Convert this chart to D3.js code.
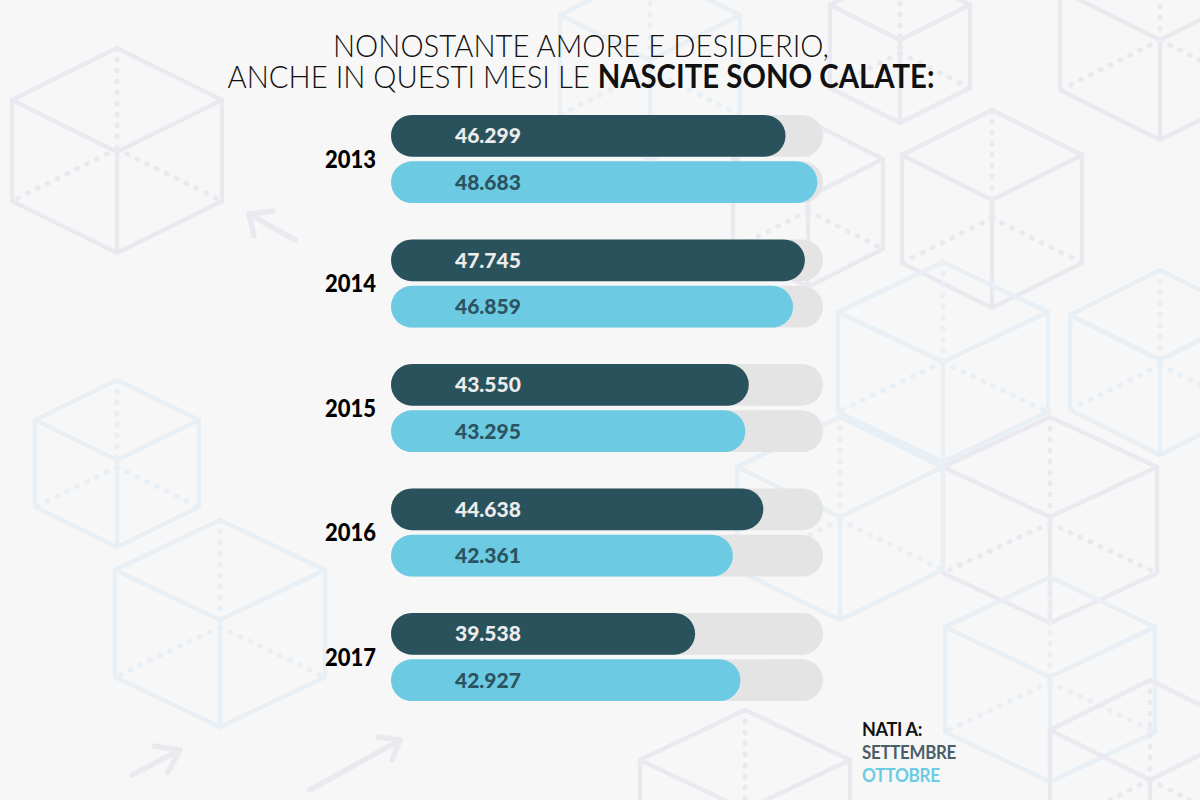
<!DOCTYPE html>
<html>
<head>
<meta charset="utf-8">
<script src="https://cdn.jsdelivr.net/npm/d3@7/dist/d3.min.js"></script>
<style>
  html, body { margin: 0; padding: 0; background: #f7f7f7; }
  svg { display: block; }
</style>
</head>
<body>
<svg id="chart" width="1200" height="800"></svg>
<script>
// ---------- DATA ----------
const years = ["2013", "2014", "2015", "2016", "2017"];
const settembre = [46299, 47745, 43550, 44638, 39538];
const ottobre = [48683, 46859, 43295, 42361, 42927];
const seriesNames = ["SETTEMBRE", "OTTOBRE"];
const titleLine1 = "NONOSTANTE AMORE E DESIDERIO,";
const titleLine2Light = "ANCHE IN QUESTI MESI LE ";
const titleLine2Bold = "NASCITE SONO CALATE:";
const legendTitle = "NATI A:";

// ---------- STYLE ----------
const W = 1200, H = 800;
const colDark = "#2a525d";
const colLight = "#6ccbe3";
const colTrack = "#e4e4e4";
const colDarkText = "#ececec";
const colLightText = "#2b5360";
const lav = "#ebe9f0", blu = "#e8eff5";

const svg = d3.select("#chart");
svg.append("rect").attr("width", W).attr("height", H).attr("fill", "#f7f7f7");

// ---------- DECORATIVE BACKGROUND (isometric wireframe cubes) ----------
const deco = svg.append("g").attr("fill", "none").attr("stroke-linecap", "round").attr("stroke-linejoin", "round");
const cubes = [
  {cx: 117, cy: 152, w: 105, h: 52, e: 101, c: lav},
  {cx: 117, cy: 460, w: 82, h: 40, e: 87, c: blu},
  {cx: 220, cy: 620, w: 105, h: 50, e: 107, c: blu},
  {cx: 900, cy: 40, w: 70, h: 35, e: 83, c: lav},
  {cx: 992, cy: 200, w: 90, h: 45, e: 108, c: lav},
  {cx: 808, cy: 197, w: 75, h: 38, e: 90, c: lav},
  {cx: 943, cy: 362, w: 105, h: 50, e: 100, c: blu},
  {cx: 1050, cy: 517, w: 107, h: 50, e: 106, c: lav},
  {cx: 840, cy: 517, w: 103, h: 50, e: 103, c: blu},
  {cx: 1050, cy: 677, w: 105, h: 50, e: 105, c: blu},
  {cx: 1160, cy: 360, w: 90, h: 45, e: 95, c: blu},
  {cx: 1160, cy: 40, w: 100, h: 50, e: 100, c: lav},
  {cx: 650, cy: 60, w: 90, h: 45, e: 100, c: blu},
  {cx: 745, cy: 810, w: 105, h: 50, e: 105, c: lav},
  {cx: 1150, cy: 780, w: 100, h: 50, e: 100, c: lav}
];
cubes.forEach(q => {
  const T = [q.cx, q.cy - 2 * q.h], UL = [q.cx - q.w, q.cy - q.h], UR = [q.cx + q.w, q.cy - q.h];
  const LL = [q.cx - q.w, q.cy - q.h + q.e], LR = [q.cx + q.w, q.cy - q.h + q.e];
  const B = [q.cx, q.cy + q.e], C = [q.cx, q.cy];
  const Hd = [q.cx, q.cy - 2 * q.h + q.e];
  const line = d3.line();
  deco.append("path").attr("d", line([T, UR, LR, B, LL, UL]) + "Z").attr("stroke", q.c).attr("stroke-width", 4.5);
  deco.append("path").attr("d", line([UL, C, UR])).attr("stroke", q.c).attr("stroke-width", 4.5);
  deco.append("path").attr("d", line([C, B])).attr("stroke", q.c).attr("stroke-width", 4.5);
  [[T, Hd], [Hd, LL], [Hd, LR]].forEach(seg => {
    deco.append("path").attr("d", line(seg)).attr("stroke", q.c).attr("stroke-width", 5)
      .attr("stroke-dasharray", "1,10");
  });
});
const arrows = [
  {pts: [[295, 240], [249, 214]], head: [[273, 211], [249, 214], [254, 236]], c: lav},
  {pts: [[132, 775], [180, 750]], head: [[154, 746], [180, 750], [168, 772]], c: lav},
  {pts: [[310, 790], [400, 740]], head: [[378, 737], [400, 740], [392, 760]], c: lav}
];
arrows.forEach(a => {
  deco.append("path").attr("d", d3.line()(a.pts)).attr("stroke", a.c).attr("stroke-width", 5.5);
  deco.append("path").attr("d", d3.line()(a.head)).attr("stroke", a.c).attr("stroke-width", 5.5);
});

// ---------- TITLE ----------
const title = svg.append("g").attr("text-anchor", "middle").attr("fill", "#111")
  .style("font-family", "Lato, 'Open Sans', sans-serif");
title.append("text").attr("x", 581).attr("y", 57)
  .attr("textLength", 496).attr("lengthAdjust", "spacingAndGlyphs")
  .style("font-size", "32px").style("font-weight", 300).text(titleLine1);
const t2 = title.append("text").attr("x", 581).attr("y", 88).style("font-size", "32px")
  .attr("textLength", 707).attr("lengthAdjust", "spacingAndGlyphs");
t2.append("tspan").style("font-weight", 300).text(titleLine2Light);
t2.append("tspan").style("font-weight", 700).text(titleLine2Bold);

// ---------- SCALES ----------
const x = d3.scaleLinear().domain([16800, 49100]).range([391, 823]);
const y = d3.scaleBand().domain(years).range([115, 701]).paddingInner(0.293).paddingOuter(0);
const ySub = d3.scaleBand().domain(seriesNames).range([0, y.bandwidth()]).paddingInner(0.1);
const itFmt = d3.formatLocale({decimal: ",", thousands: ".", grouping: [3], currency: ["€", ""]}).format(",d");

const rows = years.map((yr, i) => ({
  year: yr,
  vals: [
    {s: "SETTEMBRE", v: settembre[i], fill: colDark, tc: colDarkText},
    {s: "OTTOBRE", v: ottobre[i], fill: colLight, tc: colLightText}
  ]
}));

const g = svg.append("g");
const grp = g.selectAll("g.row").data(rows).join("g").attr("class", "row")
  .attr("transform", d => `translate(0,${y(d.year)})`);

// year labels
grp.append("text")
  .attr("x", 376).attr("y", y.bandwidth() / 2 + 9)
  .attr("text-anchor", "end")
  .attr("textLength", 51).attr("lengthAdjust", "spacingAndGlyphs")
  .style("font-family", "Lato, sans-serif").style("font-weight", 900)
  .style("font-size", "25px")
  .attr("fill", "#000").text(d => d.year);

const bw = ySub.bandwidth();
const bars = grp.selectAll("g.bar").data(d => d.vals).join("g").attr("class", "bar")
  .attr("transform", d => `translate(0,${ySub(d.s)})`);

// track
bars.append("rect")
  .attr("x", x.range()[0]).attr("width", x.range()[1] - x.range()[0])
  .attr("height", bw).attr("rx", bw / 2).attr("fill", colTrack);
// value bar
bars.append("rect")
  .attr("x", x.range()[0]).attr("width", d => x(d.v) - x.range()[0])
  .attr("height", bw).attr("rx", bw / 2).attr("fill", d => d.fill);
// value labels
bars.append("text")
  .attr("x", 455).attr("y", bw / 2 + 7.5)
  .style("font-family", "Lato, sans-serif").style("font-weight", 900).style("font-size", "21px")
  .attr("fill", d => d.tc).text(d => itFmt(d.v));

// ---------- LEGEND ----------
const leg = svg.append("g").style("font-family", "Lato, sans-serif").style("font-weight", 700)
  .style("font-size", "18px").style("letter-spacing", "-0.3px");
leg.append("text").attr("x", 862).attr("y", 736).attr("fill", "#111").text(legendTitle);
leg.append("text").attr("x", 862).attr("y", 759).attr("fill", "#4a5e68")
  .attr("textLength", 94).attr("lengthAdjust", "spacingAndGlyphs").text(seriesNames[0]);
leg.append("text").attr("x", 862).attr("y", 782).attr("fill", colLight)
  .attr("textLength", 78).attr("lengthAdjust", "spacingAndGlyphs").text(seriesNames[1]);
</script>
</body>
</html>
